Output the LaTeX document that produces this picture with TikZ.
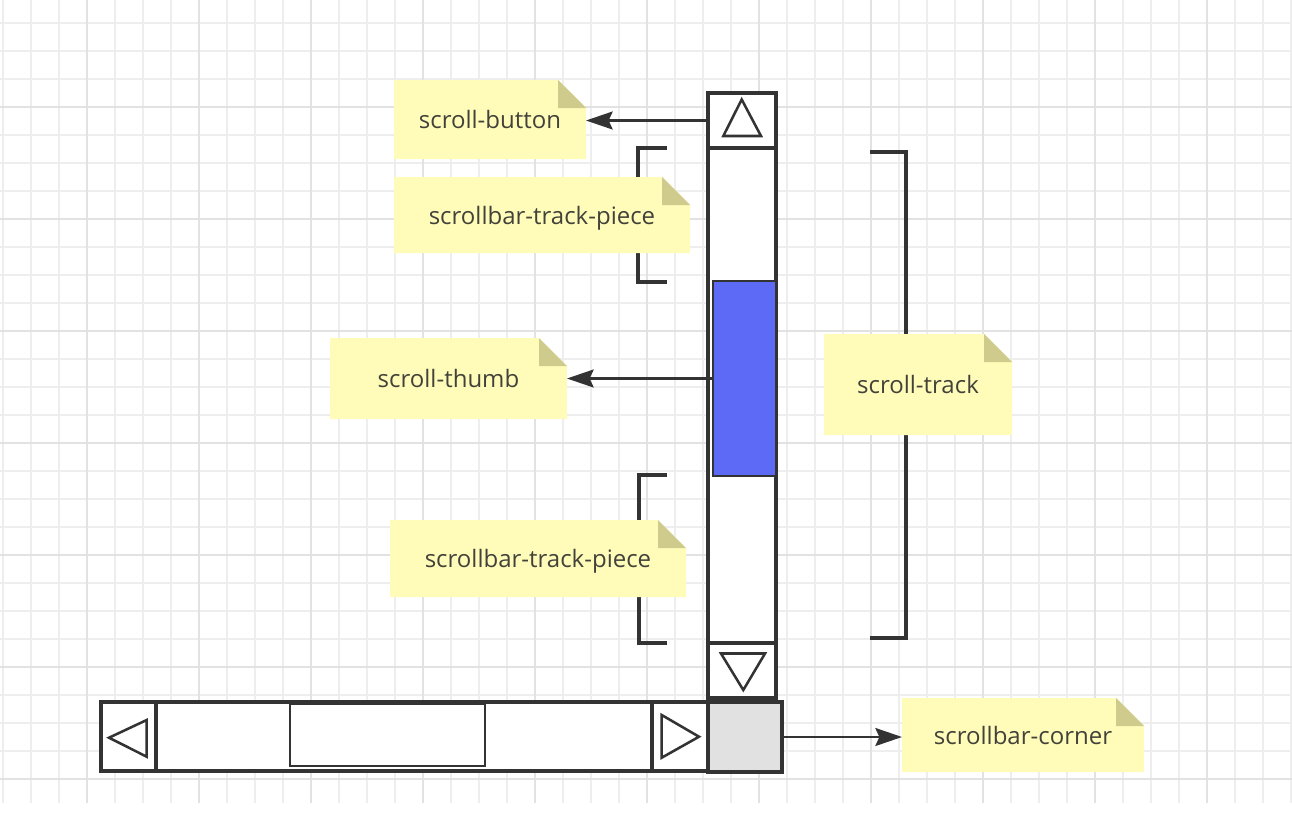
\documentclass[tikz,border=0pt]{standalone}
\usepackage{fontspec}
\setmainfont{Open Sans}
\usetikzlibrary{arrows.meta}
\definecolor{ln}{RGB}{51,51,51}
\definecolor{gminor}{RGB}{238,238,238}
\definecolor{gmajor}{RGB}{226,226,226}
\definecolor{notefill}{RGB}{255,252,185}
\definecolor{notefold}{RGB}{206,203,140}
\definecolor{notetxt}{RGB}{66,66,58}
\definecolor{thumbblue}{RGB}{92,106,245}
\definecolor{cornergray}{RGB}{225,225,225}
\newcommand{\sbbox}[6]{\node[#6, inner sep=0pt, outer sep=0pt, minimum width={(#4-#2)*0.75pt}, minimum height={(#5-#3)*0.75pt}] (#1) at ({(#2+#4)/2},{(#3+#5)/2}) {};}
\newcommand{\sbnote}[6]{%
  \fill[notefill] (#2,#3) -- ({#4-28},#3) -- (#4,{#3+28}) -- (#4,#5) -- (#2,#5) -- cycle;
  \fill[notefold] ({#4-28},#3) -- ({#4-28},{#3+28}) -- (#4,{#3+28}) -- cycle;
  \node[notetext, minimum width={(#4-#2)*0.75pt}, minimum height={(#5-#3)*0.75pt}] (#1) at ({(#2+#4)/2},{(#3+#5)/2}) {#6};}
\begin{document}
\begin{tikzpicture}[x=0.75pt,y=-0.75pt,
  minor/.style={draw=gminor,line width=1.1pt},
  major/.style={draw=gmajor,line width=1.1pt},
  sbframe/.style={draw=ln,line width=2.3pt,fill=white},
  sbthin/.style={draw=ln,line width=2pt},
  tri/.style={draw=ln,line width=1.9pt,line join=miter},
  bracketline/.style={draw=ln,line width=2.3pt},
  notetext/.style={inner sep=0pt,outer sep=0pt,text=notetxt,font=\fontsize{18pt}{20pt}\selectfont,text height=13.5pt,text depth=0pt},
  arr/.style={draw=ln,line width=1.6pt,-{Stealth[length=20pt,width=13.5pt,inset=3pt]}}]
\useasboundingbox (0,0) rectangle (1292,818);
\fill[white] (0,0) rectangle (1292,818);
% grid
\foreach \gx in {3,31,...,1292} \draw[minor] (\gx,0) -- (\gx,803);
\foreach \gy in {23,51,...,803} \draw[minor] (0,\gy) -- (1292,\gy);
\foreach \gx in {87,199,...,1292} \draw[major] (\gx,0) -- (\gx,803);
\foreach \gy in {107,219,...,803} \draw[major] (0,\gy) -- (1292,\gy);
% brackets
\draw[bracketline] (667,148) -- (638,148) -- (638,282) -- (667,282);
\draw[bracketline] (667,475) -- (639,475) -- (639,643) -- (667,643);
\draw[bracketline] (870,152) -- (906,152) -- (906,638) -- (870,638);
% notes
\sbnote{nButton}{394}{80}{586}{159}{scroll-button}
\sbnote{nPieceTop}{394}{177}{690}{253}{scrollbar-track-piece}
\sbnote{nThumb}{330}{338}{567}{419}{scroll-thumb}
\sbnote{nPieceBot}{390}{520}{686}{597}{scrollbar-track-piece}
\sbnote{nTrack}{824}{334}{1012}{435}{scroll-track}
\sbnote{nCorner}{902}{698}{1144}{772}{scrollbar-corner}
% vertical scrollbar
\sbbox{vbar}{708}{93}{776}{698}{sbframe}
\sbbox{btnUp}{708}{93}{776}{148}{sbframe}
\sbbox{btnDown}{708}{643}{776}{698}{sbframe}
\sbbox{vthumb}{713}{281}{776}{476}{sbthin,fill=thumbblue}
\draw[tri] (741.7,99.5) -- (761,136) -- (723.3,136) -- cycle;
\draw[tri] (721,653.5) -- (765,653.5) -- (743.3,690) -- cycle;
% horizontal scrollbar
\sbbox{hbar}{101}{702}{708}{771}{sbframe}
\sbbox{btnLeft}{101}{702}{156}{771}{sbframe}
\sbbox{btnRight}{652}{702}{708}{771}{sbframe}
\sbbox{hthumb}{290}{704}{485}{766}{sbthin}
\draw[tri] (109,737.7) -- (146.7,720) -- (146.7,756.7) -- cycle;
\draw[tri] (661.7,715) -- (699,736.7) -- (661.7,757.7) -- cycle;
% corner
\sbbox{corner}{708}{702}{782}{772}{sbframe,fill=cornergray}
% arrows
\draw[arr] (btnUp.west) -- (btnUp.west -| nButton.east);
\draw[arr] (vthumb.west) -- (vthumb.west -| nThumb.east);
\draw[arr] (corner.east) -- (corner.east -| nCorner.west);
\end{tikzpicture}
\end{document}
